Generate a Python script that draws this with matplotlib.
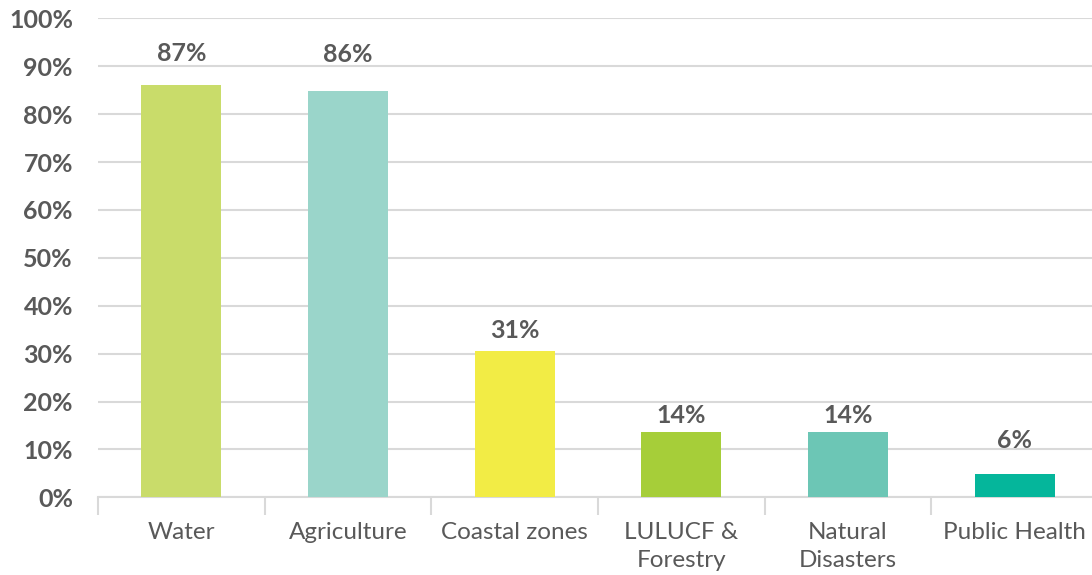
import matplotlib
matplotlib.use("Agg")
import matplotlib.pyplot as plt
import numpy as np

categories = ["Water", "Agriculture", "Coastal zones", "LULUCF &\nForestry", "Natural\nDisasters", "Public Health"]
values = [86.1, 84.8, 30.5, 13.7, 13.7, 4.8]
value_labels = ["87%", "86%", "31%", "14%", "14%", "6%"]
colors = ["#c9dc6a", "#9ad5ca", "#f2ec45", "#a6ce39", "#6cc6b5", "#05b69b"]
yticks = list(range(0, 101, 10))

# label offsets above bar tops (pixels) - layout only
label_offsets_px = [31, 37, 21, 16, 16, 33.5]

plt.rcParams['font.family'] = ['Lato', 'DejaVu Sans']
grey = "#595959"
gridc = "#d9d9d9"

fig = plt.figure(figsize=(10.92, 5.75), dpi=100)
ax = fig.add_axes([98/1092, 77.7/575, 1000/1092, (497.3-18.3)/575])

x = np.arange(len(categories))
ax.bar(x, values, width=0.48, color=colors, zorder=3)
ax.set_xlim(-0.5, len(categories) - 0.5)
ax.set_ylim(0, 100)
ax.set_yticks(yticks)
ax.set_yticklabels([f"{t}%" for t in yticks], fontsize=18, fontweight='bold', color=grey)
ax.yaxis.grid(True, color=gridc, linewidth=1.5, zorder=0)
ax.tick_params(axis='y', length=0, pad=18)

ax.set_xticks(x)
ax.set_xticklabels(categories, fontsize=17.5, color=grey, linespacing=1.4)
ax.tick_params(axis='x', length=0, pad=18)
ax.set_xticks(np.arange(len(categories) + 1) - 0.5, minor=True)
ax.tick_params(axis='x', which='minor', length=13, width=1.5, color=gridc)

for s in ['top', 'right', 'left']:
    ax.spines[s].set_visible(False)
ax.spines['bottom'].set_color(gridc)
ax.spines['bottom'].set_linewidth(1.5)

for xi, v, lab, off in zip(x, values, value_labels, label_offsets_px):
    ax.annotate(lab, (xi, v), xytext=(0, off * 0.72), textcoords='offset points',
                ha='center', va='center', fontsize=18, fontweight='bold', color=grey, zorder=4)

fig.savefig("out.png", dpi=100)
